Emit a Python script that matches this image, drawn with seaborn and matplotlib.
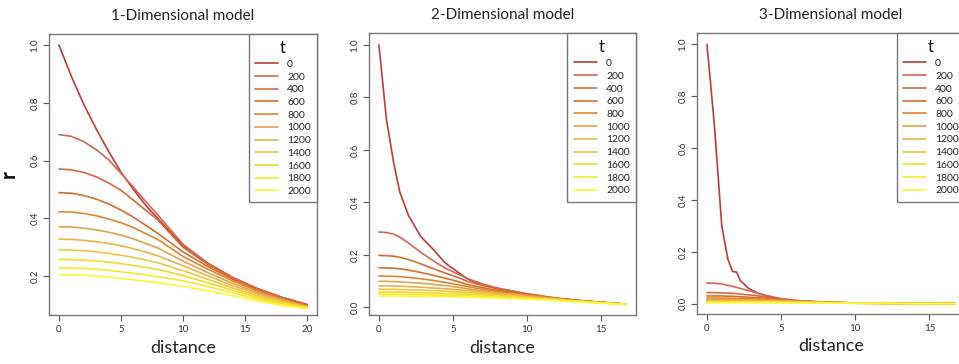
import pandas as pd
import matplotlib
matplotlib.use('Agg')
import matplotlib.pyplot as plt
import seaborn as sns

# valores de t (generaciones)
t_levels = ['0', '200', '400', '600', '800', '1000', '1200', '1400', '1600', '1800', '2000']
line_colors = ['#bf3b3b', '#d4674f', '#d8693a', '#d66f2c', '#e0862e', '#e3a34a',
               '#e8b54a', '#efc83a', '#f3d92c', '#f8ea2a', '#fcf83c']

# modelo 1-D
dist_1d = [0, 1, 2, 3, 4, 5, 6, 7, 8, 10, 12, 14, 16, 18, 20]
r_1d = [
    [1.000, 0.892, 0.795, 0.710, 0.632, 0.560, 0.500, 0.445, 0.398, 0.305, 0.243, 0.194, 0.156, 0.126, 0.102],
    [0.690, 0.684, 0.666, 0.638, 0.603, 0.556, 0.508, 0.458, 0.410, 0.310, 0.245, 0.196, 0.157, 0.126, 0.101],
    [0.571, 0.568, 0.559, 0.544, 0.523, 0.497, 0.463, 0.428, 0.393, 0.300, 0.240, 0.193, 0.155, 0.124, 0.099],
    [0.489, 0.487, 0.479, 0.467, 0.450, 0.429, 0.404, 0.376, 0.347, 0.284, 0.233, 0.189, 0.152, 0.122, 0.098],
    [0.423, 0.422, 0.417, 0.409, 0.398, 0.385, 0.368, 0.347, 0.326, 0.268, 0.224, 0.183, 0.148, 0.120, 0.096],
    [0.371, 0.370, 0.366, 0.360, 0.352, 0.342, 0.329, 0.313, 0.297, 0.252, 0.212, 0.175, 0.143, 0.117, 0.095],
    [0.328, 0.327, 0.324, 0.319, 0.313, 0.305, 0.295, 0.283, 0.270, 0.236, 0.201, 0.167, 0.138, 0.114, 0.093],
    [0.291, 0.290, 0.288, 0.284, 0.279, 0.272, 0.265, 0.256, 0.246, 0.219, 0.189, 0.159, 0.132, 0.110, 0.092],
    [0.258, 0.257, 0.255, 0.252, 0.248, 0.243, 0.237, 0.230, 0.223, 0.202, 0.177, 0.151, 0.126, 0.106, 0.090],
    [0.229, 0.228, 0.227, 0.224, 0.220, 0.215, 0.210, 0.204, 0.198, 0.184, 0.164, 0.142, 0.120, 0.102, 0.089],
    [0.205, 0.204, 0.203, 0.200, 0.197, 0.192, 0.187, 0.182, 0.177, 0.165, 0.149, 0.132, 0.113, 0.098, 0.087],
]

# modelo 2-D
dist_2d = [0, 0.5, 1, 1.41, 2, 2.83, 3.61, 4.47, 5, 6, 7, 8, 10, 12, 14, 16.73]
r_2d = [
    [1.000, 0.720, 0.550, 0.440, 0.350, 0.270, 0.225, 0.170, 0.148, 0.108, 0.086, 0.072, 0.050, 0.034, 0.023, 0.012],
    [0.287, 0.285, 0.279, 0.268, 0.245, 0.210, 0.180, 0.150, 0.136, 0.110, 0.089, 0.074, 0.052, 0.035, 0.024, 0.012],
    [0.198, 0.197, 0.195, 0.191, 0.182, 0.166, 0.149, 0.131, 0.121, 0.099, 0.083, 0.071, 0.051, 0.035, 0.024, 0.012],
    [0.151, 0.150, 0.149, 0.147, 0.142, 0.133, 0.123, 0.111, 0.104, 0.087, 0.075, 0.065, 0.049, 0.034, 0.023, 0.012],
    [0.119, 0.119, 0.118, 0.117, 0.114, 0.109, 0.103, 0.095, 0.090, 0.079, 0.069, 0.060, 0.046, 0.033, 0.023, 0.012],
    [0.099, 0.099, 0.098, 0.097, 0.095, 0.092, 0.088, 0.083, 0.079, 0.071, 0.063, 0.056, 0.044, 0.032, 0.022, 0.012],
    [0.082, 0.082, 0.081, 0.081, 0.079, 0.077, 0.074, 0.071, 0.069, 0.064, 0.058, 0.052, 0.041, 0.031, 0.022, 0.012],
    [0.069, 0.069, 0.069, 0.068, 0.067, 0.066, 0.064, 0.062, 0.060, 0.057, 0.052, 0.048, 0.039, 0.030, 0.021, 0.011],
    [0.058, 0.058, 0.058, 0.058, 0.057, 0.056, 0.055, 0.053, 0.052, 0.050, 0.047, 0.044, 0.036, 0.028, 0.021, 0.011],
    [0.050, 0.050, 0.050, 0.049, 0.049, 0.048, 0.047, 0.046, 0.045, 0.044, 0.042, 0.039, 0.033, 0.027, 0.020, 0.011],
    [0.043, 0.043, 0.043, 0.043, 0.042, 0.042, 0.041, 0.040, 0.040, 0.039, 0.037, 0.035, 0.031, 0.026, 0.019, 0.011],
]

# modelo 3-D
dist_3d = [0, 0.5, 1, 1.41, 1.73, 2, 2.24, 2.83, 3.46, 4, 4.47, 5, 6, 8, 10, 13, 16.73]
r_3d = [
    [1.000, 0.690, 0.300, 0.172, 0.124, 0.122, 0.090, 0.058, 0.040, 0.030, 0.022, 0.016, 0.010, 0.004, 0.002, 0.001, 0.0005],
    [0.080, 0.079, 0.076, 0.071, 0.067, 0.063, 0.059, 0.050, 0.040, 0.032, 0.026, 0.020, 0.013, 0.006, 0.003, 0.001, 0.0005],
    [0.043, 0.043, 0.042, 0.041, 0.040, 0.039, 0.037, 0.034, 0.030, 0.026, 0.022, 0.018, 0.012, 0.006, 0.003, 0.001, 0.0005],
    [0.030, 0.030, 0.030, 0.029, 0.029, 0.028, 0.027, 0.025, 0.023, 0.021, 0.018, 0.015, 0.011, 0.005, 0.003, 0.001, 0.0005],
    [0.022, 0.022, 0.022, 0.022, 0.021, 0.021, 0.021, 0.020, 0.018, 0.017, 0.015, 0.013, 0.010, 0.005, 0.003, 0.001, 0.0005],
    [0.016, 0.016, 0.016, 0.016, 0.016, 0.016, 0.015, 0.015, 0.014, 0.013, 0.012, 0.011, 0.009, 0.005, 0.003, 0.001, 0.0005],
    [0.012, 0.012, 0.012, 0.012, 0.012, 0.012, 0.012, 0.011, 0.011, 0.010, 0.010, 0.009, 0.008, 0.005, 0.003, 0.001, 0.0005],
    [0.009, 0.009, 0.009, 0.009, 0.009, 0.009, 0.009, 0.009, 0.008, 0.008, 0.008, 0.007, 0.006, 0.004, 0.003, 0.001, 0.0005],
    [0.007, 0.007, 0.007, 0.007, 0.007, 0.007, 0.007, 0.007, 0.007, 0.006, 0.006, 0.006, 0.005, 0.004, 0.002, 0.001, 0.0005],
    [0.005, 0.005, 0.005, 0.005, 0.005, 0.005, 0.005, 0.005, 0.005, 0.005, 0.005, 0.005, 0.004, 0.003, 0.002, 0.001, 0.0005],
    [0.004, 0.004, 0.004, 0.004, 0.004, 0.004, 0.004, 0.004, 0.004, 0.004, 0.004, 0.004, 0.003, 0.003, 0.002, 0.001, 0.0005],
]


def to_long(dist, values):
    rows = []
    for t, serie in zip(t_levels, values):
        for d, r in zip(dist, serie):
            rows.append({'distance': d, 'r': r, 't': t})
    return pd.DataFrame(rows)


sns.set_theme(style='ticks')
plt.rcParams['font.family'] = ['Lato', 'DejaVu Sans']

fig = plt.figure(figsize=(9.59, 3.64), dpi=100)

# posiciones de los paneles (en fracción de figura)
paneles = [
    ('1-Dimensional model', dist_1d, r_1d, [0.0511, 0.134, 0.2795, 0.773], (-0.8, 20.8), (0.0645, 1.039),
     [0, 5, 10, 15, 20], [0.2, 0.4, 0.6, 0.8, 1.0]),
    ('2-Dimensional model', dist_2d, r_2d, [0.3848, 0.134, 0.2784, 0.775], (-0.67, 17.4), (-0.03, 1.045),
     [0, 5, 10, 15], [0.0, 0.2, 0.4, 0.6, 0.8, 1.0]),
    ('3-Dimensional model', dist_3d, r_3d, [0.7268, 0.137, 0.2795, 0.772], (-0.67, 17.4), (-0.04, 1.043),
     [0, 5, 10, 15], [0.0, 0.2, 0.4, 0.6, 0.8, 1.0]),
]

for i, (titulo, dist, valores, pos, xlim, ylim, xt, yt) in enumerate(paneles):
    ax = fig.add_axes(pos)
    df = to_long(dist, valores)
    sns.lineplot(data=df, x='distance', y='r', hue='t', hue_order=t_levels, palette=line_colors,
                 sort=False, linewidth=1.2, ax=ax)
    ax.set_xlim(*xlim)
    ax.set_ylim(*ylim)
    ax.set_xticks(xt)
    ax.set_yticks(yt)
    ax.set_xticklabels([str(v) for v in xt])
    ax.set_yticklabels([f'{v:.1f}' for v in yt], rotation=90, va='center')
    ax.tick_params(axis='both', labelsize=7, length=4, width=0.8, color='#555555', labelcolor='#333333', pad=3)
    for s in ax.spines.values():
        s.set_visible(True)
        s.set_color('#777777')
        s.set_linewidth(1.0)
    ax.set_title(titulo, fontsize=11, color='#222222', pad=10)
    ax.set_xlabel('distance', fontsize=13, color='#222222', labelpad=4)
    if i == 0:
        ax.set_ylabel('r', fontsize=15, fontweight='bold', color='#111111', labelpad=8)
    else:
        ax.set_ylabel('')

    handles, labels = ax.get_legend_handles_labels()
    leg = ax.legend(handles, labels, title='t', loc='upper right', bbox_to_anchor=(1.0, 1.0),
                    borderaxespad=0, fontsize=7.5, title_fontsize=12, frameon=True, fancybox=False,
                    edgecolor='#777777', framealpha=1, handlelength=2.2, handletextpad=0.9,
                    labelspacing=0.33, borderpad=0.6)
    leg.get_frame().set_linewidth(1.0)
    leg.get_title().set_color('#111111')

fig.savefig('out.png', dpi=100)
